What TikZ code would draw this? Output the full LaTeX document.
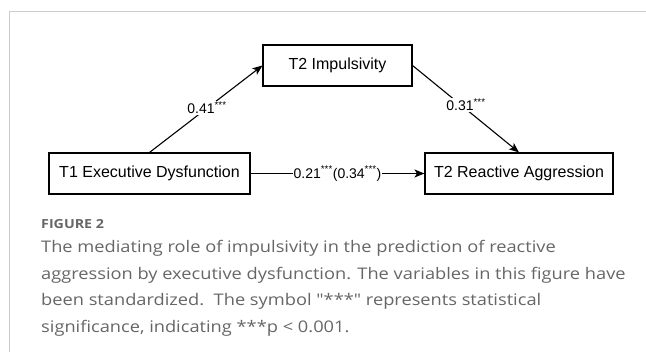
\documentclass[tikz,border=0pt]{standalone}
\usepackage{fontspec}
\setmainfont{Liberation Sans}
\newfontfamily\capfont[FakeStretch=1.14]{Open Sans}
\usetikzlibrary{arrows.meta}
\definecolor{capgray}{HTML}{666666}
\definecolor{framegray}{HTML}{CCCCCC}
\begin{document}
\begin{tikzpicture}[x=1pt,y=-1pt,
  varbox/.style={draw, line width=1.1pt, minimum height=41pt, inner sep=0pt, font=\fontsize{16}{18}\selectfont},
  path/.style={line width=1.1pt, -{Stealth[length=10pt,width=8pt,inset=2.5pt]}},
  coef/.style={fill=white, inner sep=1pt, font=\fontsize{14}{16}\selectfont},
  capline/.style={anchor=base west, inner sep=0pt, text=capgray, font=\capfont\fontsize{16}{20}\selectfont}]
\useasboundingbox (0,0) rectangle (646,352);
\draw[framegray, line width=1pt] (646,11.7) -- (9.3,11.7) -- (9.3,352);
\node[varbox, minimum width=149pt] (imp) at (337.5,65.5) {T2 Impulsivity};
\node[varbox, minimum width=201pt] (t1) at (149.5,173.5) {T1 Executive Dysfunction};
\node[varbox, minimum width=188pt] (rag) at (519,173.5) {T2 Reactive Aggression};
\draw[path] (t1.north) -- (imp.west);
\draw[path] (imp.east) -- (rag.north);
\draw[path] (t1.east) -- (rag.west) node[midway, coef] (c3) {0.21\textsuperscript{***}(0.34\textsuperscript{***})};
\node[coef] (c1) at (207,108) {0.41\textsuperscript{***}};
\node[coef] (c2) at (466,105) {0.31\textsuperscript{***}};
\node[anchor=base west, inner sep=0pt, text=capgray, font=\capfont\bfseries\fontsize{12.5}{14}\selectfont] (fig) at (41,229) {FIGURE 2};
\node[capline] (cap1) at (41,253) {The mediating role of impulsivity in the prediction of reactive};
\node[capline] (cap2) at (41,279.5) {aggression by executive dysfunction. The variables in this figure have};
\node[capline] (cap3) at (41,306) {been standardized.\ \ The symbol "***" represents statistical};
\node[capline] (cap4) at (41,332.5) {significance, indicating ***p < 0.001.};
\end{tikzpicture}
\end{document}
